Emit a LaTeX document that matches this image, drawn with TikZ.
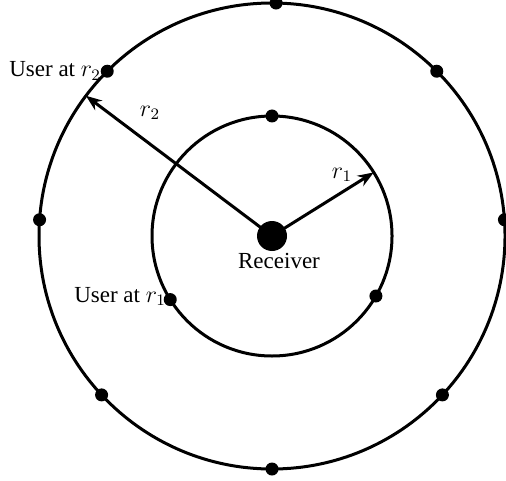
\documentclass[tikz,border=0pt]{standalone}
\usepackage{fontspec}
\setmainfont{Liberation Serif}
\usetikzlibrary{arrows.meta,calc}
\begin{document}
\begin{tikzpicture}[x=0.5pt,y=-0.5pt,
  ring/.style={line width=1.5pt},
  userdot/.style={circle,fill=black,inner sep=0pt,minimum size=6.5pt},
  rxdot/.style={circle,fill=black,inner sep=0pt,minimum size=15pt},
  radius arrow/.style={line width=1.5pt,-{Stealth[length=8pt,width=6pt]}},
  lbl/.style={font=\fontsize{11.5}{13}\selectfont,inner sep=0pt}]
\useasboundingbox (0,0) rectangle (506,480);
\coordinate (C) at (272,236);
\draw[ring] (C) circle[radius=233];
\draw[ring] (C) circle[radius=120];
% outer users
\foreach \a/\n in {4/o0,45/o45,89/o90,135/o135,176/o180,223/o225,270/o270,317/o315}
  \node[userdot] (\n) at ($(C)+(\a:233 and -233)$) {};
% inner users
\foreach \a/\n in {90/i90,212/i212,330/i330}
  \node[userdot] (\n) at ($(C)+(\a:120 and -120)$) {};
\node[rxdot] (rx) at (C) {};
\coordinate (t1) at ($(C)+(32:120 and -120)$);
\coordinate (t2) at ($(C)+(143:233 and -233)$);
\draw[radius arrow] (rx.center) -- (t1);
\draw[radius arrow] (rx.center) -- (t2);
\node[lbl] (lrx) at (279,261) {Receiver};
\node[lbl] (lr1) at (342,175) {$r_1$};
\node[lbl] (lr2) at (150,113) {$r_2$};
\node[lbl,anchor=east] (lu2) at ($(o135.west)+(1,0)$) {User at $r_2$};
\node[lbl,anchor=east] (lu1) at ($(i212.west)+(3,-3)$) {User at $r_1$};
\end{tikzpicture}
\end{document}
